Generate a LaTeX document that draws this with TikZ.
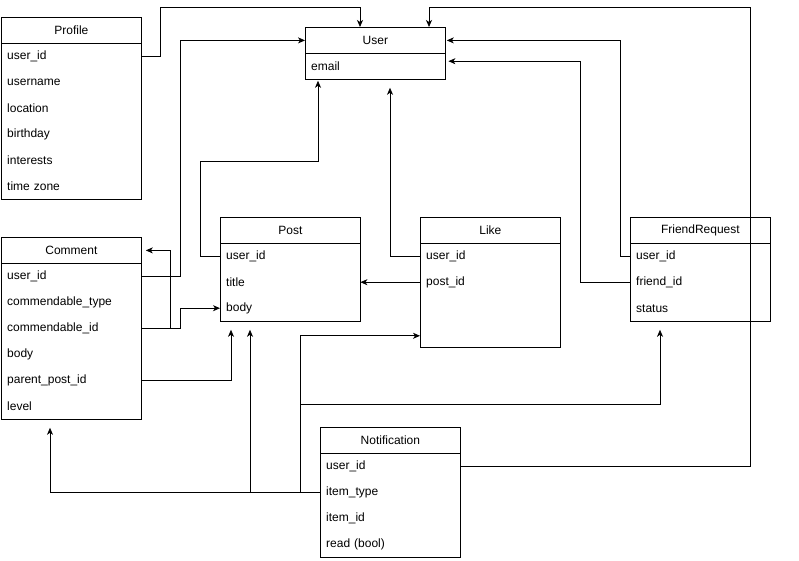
\documentclass[tikz,border=0pt]{standalone}
\usepackage{fontspec}
\setmainfont{Liberation Sans}
\usetikzlibrary{arrows.meta}
\begin{document}
\begin{tikzpicture}[x=1pt,y=-1pt, font=\fontsize{12pt}{14pt}\selectfont,
 ebox/.style={draw, line width=0.8pt, minimum width=140pt, anchor=north west, inner sep=0pt},
 hdr/.style={draw, line width=0.8pt, minimum width=140pt, minimum height=26pt, anchor=north west, inner sep=0pt},
 fld/.style={minimum width=140pt, minimum height=26pt, anchor=north west, text width=128pt, align=left, inner xsep=6pt, inner ysep=0pt},
 conn/.style={line width=0.8pt, -{Stealth[length=7pt,width=6pt,inset=2pt]}}]
\useasboundingbox (0,0) rectangle (799,561);

% Profile
\node[ebox, minimum height=182pt] (profile) at (1,17) {};
\node[hdr] (ph) at (1,17) {Profile};
\node[fld] (p1) at (1,43) {user\_id};
\node[fld] (p2) at (1,69) {username};
\node[fld] (p3) at (1,95) {location};
\node[fld] (p4) at (1,121) {birthday};
\node[fld] (p5) at (1,147) {interests};
\node[fld] (p6) at (1,173) {time zone};

% User
\node[ebox, minimum height=52pt] (user) at (305,27) {};
\node[hdr] (uh) at (305,27) {User};
\node[fld] (ue) at (305,53) {email};

% Post
\node[ebox, minimum height=104pt] (post) at (220,217) {};
\node[hdr] (poh) at (220,217) {Post};
\node[fld] (po1) at (220,243) {user\_id};
\node[fld] (po2) at (220,269) {title};
\node[fld] (po3) at (220,295) {body};

% Like
\node[ebox, minimum height=130pt] (like) at (420,217) {};
\node[hdr] (lh) at (420,217) {Like};
\node[fld] (l1) at (420,243) {user\_id};
\node[fld] (l2) at (420,269) {post\_id};

% FriendRequest
\node[ebox, minimum height=104pt] (fr) at (630,217) {};
\node[hdr] (fh) at (630,217) {FriendRequest};
\node[fld] (f1) at (630,243) {user\_id};
\node[fld] (f2) at (630,269) {friend\_id};
\node[fld] (f3) at (630,295) {status};

% Comment
\node[ebox, minimum height=182pt] (comment) at (1,237) {};
\node[hdr] (ch) at (1,237) {Comment};
\node[fld] (c1) at (1,263) {user\_id};
\node[fld] (c2) at (1,289) {commendable\_type};
\node[fld] (c3) at (1,315) {commendable\_id};
\node[fld] (c4) at (1,341) {body};
\node[fld] (c5) at (1,367) {parent\_post\_id};
\node[fld] (c6) at (1,393) {level};

% Notification
\node[ebox, minimum height=130pt] (notif) at (320,427) {};
\node[hdr] (nh) at (320,427) {Notification};
\node[fld] (n1) at (320,453) {user\_id};
\node[fld] (n2) at (320,479) {item\_type};
\node[fld] (n3) at (320,505) {item\_id};
\node[fld] (n4) at (320,531) {read (bool)};

% Connectors
\draw[conn] (p1.east) -| (160,7) -| ([xshift=55pt]uh.north west);
\draw[conn] (po1.west) -| (200,161) -| ([xshift=13pt,yshift=-1pt]user.south west);
\draw[conn] (c1.east) -- ++(39,0) |- (uh.west);
\draw[conn] (c3.east) -- ++(39,0) |- (po3.west);
\draw[conn] (c3.east) -- ++(29,0) |- ([xshift=4pt]ch.east);
\draw[conn] (c5.east) -| ([xshift=11pt,yshift=-8pt]post.south west);
\draw[conn] (l1.west) -| ([xshift=85pt,yshift=-8pt]user.south west);
\draw[conn] (l2.west) -- (po2.east);
\draw[conn] (f1.west) -- ++(-10,0) |- ([xshift=1pt]uh.east);
\draw[conn] (f2.west) -- ++(-50,0) |- ([xshift=3pt,yshift=5pt]ue.east);
\draw[conn] (n1.east) -| (750,7) -| ([xshift=124pt]uh.north west);
\draw[conn] (n2.west) -| ([xshift=49pt,yshift=-8pt]comment.south west);
\coordinate (j1) at ([xshift=30pt]post.south west |- n2.west);
\draw[conn] (j1) -- ([xshift=30pt,yshift=-8pt]post.south west);
\coordinate (j2) at ([xshift=-20pt]n2.west);
\draw[conn] (j2) |- ([yshift=12pt]like.south west);
\coordinate (j3) at (300,404);
\draw[conn] (j3) -| ([xshift=30pt,yshift=-8pt]fr.south west);
\end{tikzpicture}
\end{document}
